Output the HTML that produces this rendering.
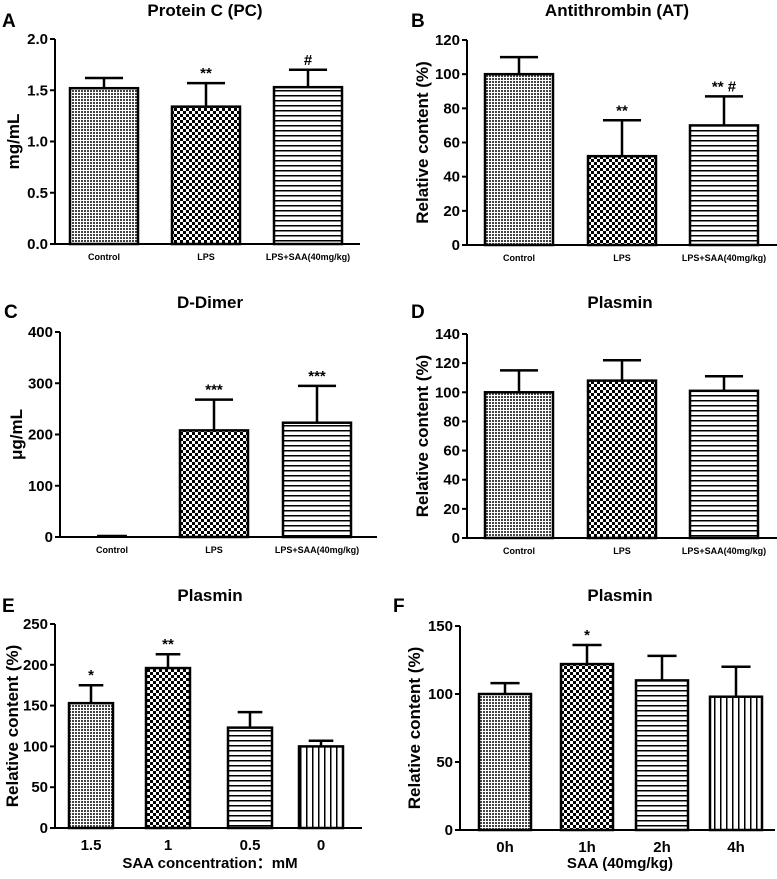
<!DOCTYPE html>
<html><head><meta charset="utf-8"><style>
body{margin:0;background:#fff}
svg{display:block;font-family:"Liberation Sans","Noto Sans CJK SC",sans-serif;font-weight:bold}
</style></head><body>
<svg id="fig" width="777" height="879" viewBox="0 0 777 879">
<defs>
<pattern id="pDot" width="3" height="3" patternUnits="userSpaceOnUse"><rect width="3" height="3" fill="#fff"/><rect width="2" height="2" fill="#444"/></pattern>
<pattern id="pCheck" width="6" height="6" patternUnits="userSpaceOnUse"><rect width="6" height="6" fill="#fff"/><rect width="3" height="3" fill="#000"/><rect x="3" y="3" width="3" height="3" fill="#000"/></pattern>
<pattern id="pH" width="6" height="5" patternUnits="userSpaceOnUse"><rect width="6" height="5" fill="#fff"/><rect width="6" height="1.5" fill="#000"/></pattern>
<pattern id="pV" width="6" height="6" patternUnits="userSpaceOnUse"><rect width="6" height="6" fill="#fff"/><rect width="1.5" height="6" fill="#000"/></pattern>
</defs>
</svg>
<script>
// Panel A
const catsA=["Control","LPS","LPS+SAA(40mg/kg)"];
const valsA=[1.52,1.34,1.53];
const errA=[0.10,0.23,0.17];
const sigA=["","**","#"];
const ticksA=["0.0","0.5","1.0","1.5","2.0"];
// Panel B
const catsB=["Control","LPS","LPS+SAA(40mg/kg)"];
const valsB=[100,52,70];
const errB=[10,21,17];
const sigB=["","**","** #"];
const ticksB=["0","20","40","60","80","100","120"];
// Panel C
const catsC=["Control","LPS","LPS+SAA(40mg/kg)"];
const valsC=[0,208,223];
const errC=[0,60,72];
const sigC=["","***","***"];
const ticksC=["0","100","200","300","400"];
// Panel D
const catsD=["Control","LPS","LPS+SAA(40mg/kg)"];
const valsD=[100,108,101];
const errD=[15,14,10];
const sigD=["","",""];
const ticksD=["0","20","40","60","80","100","120","140"];
// Panel E
const catsE=["1.5","1","0.5","0"];
const valsE=[153,196,123,100];
const errE=[22,17,19,7];
const sigE=["*","**","",""];
const ticksE=["0","50","100","150","200","250"];
// Panel F
const catsF=["0h","1h","2h","4h"];
const valsF=[100,122,110,98];
const errF=[8,14,18,22];
const sigF=["","*","",""];
const ticksF=["0","50","100","150"];

const NS="http://www.w3.org/2000/svg";
const svg=document.getElementById('fig');
function mk(tag,attrs,parent,text){const e=document.createElementNS(NS,tag);for(const k in attrs)e.setAttribute(k,attrs[k]);if(text!==undefined)e.textContent=text;(parent||svg).appendChild(e);return e;}

function panel(o,cats,vals,errs,sigs,ticks){
  const g=mk('g',{});
  
  
  const max=parseFloat(ticks[ticks.length-1]);
  const y=v=>o.y0-(v/max)*(o.y0-o.yTop);
  const L=mk('text',{x:o.lx,y:o.ly,'font-size':19},g,o.id);
  
  const T=mk('text',{x:o.tx,y:o.ty,'font-size':17,'text-anchor':'middle'},g,o.title);
  
  cats.forEach((c,i)=>{
    const x1=o.bx[i],w=o.bw,top=y(vals[i]);
    const cx=x1+w/2;
    if(errs[i]>0){
      const ey=y(vals[i]+errs[i]);
      const e=mk('path',{d:`M${cx},${top}V${ey}M${cx-w*0.28},${ey}H${cx+w*0.28}`,stroke:'#000','stroke-width':2.5,fill:'none'},g);
      
    }
    let r;
    if(o.y0-top>0.5){
      r=mk('rect',{x:x1,y:top,width:w,height:o.y0-top,fill:'url(#'+o.pats[i]+')',stroke:'#000','stroke-width':2.5},g);
    } else {
      r=mk('line',{x1:x1+w*0.28,x2:x1+w*0.72,y1:top-1,y2:top-1,stroke:'#000','stroke-width':2.5},g);
    }
    
    if(sigs[i]){
      const s=mk('text',{x:cx,y:y(vals[i]+errs[i])-5,'font-size':15,'text-anchor':'middle'},g,sigs[i]);
      
    }
    const xl=mk('text',{x:cx,y:o.y0+o.labDy,'font-size':o.labFs,'text-anchor':'middle'},g,c);
    
  });
  const ax=mk('path',{d:`M${o.ax},${o.yTop}V${o.y0}H${o.axEnd}`,stroke:'#000','stroke-width':2,fill:'none'},g);
  
  ticks.forEach(t=>{
    const ty=y(parseFloat(t));
    mk('line',{x1:o.ax-5,x2:o.ax,y1:ty,y2:ty,stroke:'#000','stroke-width':2},g);
    const tl=mk('text',{x:o.ax-7,y:ty+5,'font-size':o.tickFs,'text-anchor':'end'},g,t);
    
  });
  const yt=mk('text',{x:0,y:0,'font-size':o.ytFs,'text-anchor':'middle',transform:`translate(${o.ytx},${(o.y0+o.yTop)/2}) rotate(-90)`},g,o.ytitle);
  
  if(o.xtitle){
    const xt=mk('text',{x:o.xtx,y:o.xty,'font-size':15,'text-anchor':'middle'},g,o.xtitle);
    
  }
}
const P3=['pDot','pCheck','pH'];
panel({id:'A',title:'Protein C (PC)',lx:2,ly:27,tx:205,ty:16,ax:55,axEnd:360,yTop:39,y0:244,bx:[70,172,274],bw:68,pats:P3,labDy:16,labFs:9,tickFs:15,ytitle:'mg/mL',ytFs:17,ytx:19},catsA,valsA,errA,sigA,ticksA);
panel({id:'B',title:'Antithrombin (AT)',lx:411,ly:27,tx:617,ty:16,ax:467,axEnd:777,yTop:40,y0:245,bx:[485,588,690],bw:68,pats:P3,labDy:16,labFs:9,tickFs:15,ytitle:'Relative content (%)',ytFs:17,ytx:428},catsB,valsB,errB,sigB,ticksB);
panel({id:'C',title:'D-Dimer',lx:4,ly:318,tx:210,ty:308,ax:60,axEnd:377,yTop:332,y0:537,bx:[78,180,283],bw:68,pats:P3,labDy:16,labFs:9,tickFs:15,ytitle:'μg/mL',ytFs:17,ytx:22},catsC,valsC,errC,sigC,ticksC);
panel({id:'D',title:'Plasmin',lx:411,ly:318,tx:620,ty:308,ax:467,axEnd:777,yTop:334,y0:538,bx:[485,588,690],bw:68,pats:P3,labDy:16,labFs:9,tickFs:15,ytitle:'Relative content (%)',ytFs:17,ytx:428},catsD,valsD,errD,sigD,ticksD);
panel({id:'E',title:'Plasmin',lx:2,ly:612,tx:210,ty:601,ax:55,axEnd:362,yTop:624,y0:828,bx:[69,146,228,299],bw:44,pats:['pDot','pCheck','pH','pV'],labDy:22,labFs:15,tickFs:15,ytitle:'Relative content (%)',ytFs:17,ytx:18,xtitle:'SAA concentration：mM',xtx:210,xty:868},catsE,valsE,errE,sigE,ticksE);
panel({id:'F',title:'Plasmin',lx:393,ly:612,tx:620,ty:601,ax:460,axEnd:775,yTop:626,y0:830,bx:[479,561,636,710],bw:52,pats:['pDot','pCheck','pH','pV'],labDy:22,labFs:15,tickFs:15,ytitle:'Relative content (%)',ytFs:17,ytx:420,xtitle:'SAA (40mg/kg)',xtx:620,xty:868},catsF,valsF,errF,sigF,ticksF);
</script>
</body></html>
